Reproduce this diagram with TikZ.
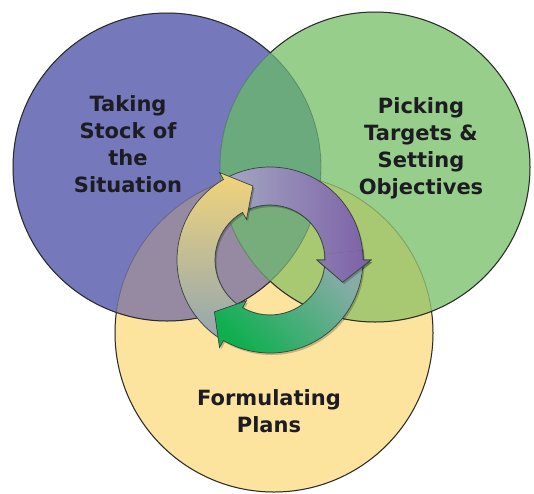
\documentclass[tikz,border=0pt]{standalone}
\usepackage{fontspec}
\setsansfont{DejaVu Sans}
\definecolor{cB}{HTML}{7579BB}
\definecolor{cG}{HTML}{97CE8B}
\definecolor{cY}{HTML}{FCE49F}
\definecolor{cBG}{HTML}{6AAA7C}
\definecolor{cBY}{HTML}{958AA1}
\definecolor{cGY}{HTML}{A8C872}
\definecolor{cBGY}{HTML}{76AD7A}
\definecolor{edge}{HTML}{2A2A2A}
\definecolor{txt}{HTML}{1C1C22}
\definecolor{pLight}{HTML}{A2A6C2}
\definecolor{pDark}{HTML}{7C60A6}
\definecolor{gTeal}{HTML}{86ACA6}
\definecolor{gGreen}{HTML}{0FAF50}
\definecolor{yTop}{HTML}{F2D47A}
\definecolor{yBot}{HTML}{93A6B0}
\definecolor{aEdge}{HTML}{3A4040}
\newcommand\arrowpath[3]{(#1:93) arc[start angle=#1, end angle=#2, radius=93] -- (#2:101) -- (#3:76) -- (#2:47) -- (#2:55) arc[start angle=#2, end angle=#1, radius=55] -- cycle}
\tikzset{
  lbl/.style={font=\sffamily\bfseries\fontsize{21}{27}\selectfont, text=txt, align=center, inner sep=0pt},
  darkedge/.style={draw=edge, line width=1pt},
  faintedge/.style={draw=black, draw opacity=0.22, line width=0.8pt},
  arrowedge/.style={draw=aEdge, line width=0.7pt},
  purplearrow/.style={top color=pLight, bottom color=pDark, shading angle=90, arrowedge},
  greenarrow/.style={top color=gTeal, bottom color=gGreen, shading angle=-45, arrowedge},
  yellowarrow/.style={top color=yTop, bottom color=yBot, shading angle=0, arrowedge},
  arrowshadow/.style={fill=black, fill opacity=0.22}
}
\begin{document}
\begin{tikzpicture}[x=1pt,y=-1pt]
\useasboundingbox (0,0) rectangle (534,493);
\fill[white] (0,0) rectangle (534,493);
\coordinate (B) at (167,167);
\coordinate (G) at (375,167);
\coordinate (Y) at (274,333);
% region fills
\fill[cY] (Y) circle[radius=159];
\fill[cB] (B) circle[radius=154];
\fill[cG] (G) circle[radius=155];
\begin{scope}
  \clip (B) circle[radius=154];
  \fill[cBY] (Y) circle[radius=159];
  \fill[cBG] (G) circle[radius=155];
  \clip (G) circle[radius=155];
  \fill[cBGY] (Y) circle[radius=159];
\end{scope}
\begin{scope}
  \clip (G) circle[radius=155];
  \fill[cGY] (Y) circle[radius=159];
  \clip (B) circle[radius=154];
  \fill[cBGY] (Y) circle[radius=159];
\end{scope}
% faint inner edges
\draw[faintedge] (B) circle[radius=154];
\draw[faintedge] (G) circle[radius=155];
\draw[faintedge] (Y) circle[radius=159];
% dark edges
\begin{scope}[even odd rule]
  \clip (-20,-20) rectangle (560,520) (G) circle[radius=155];
  \draw[darkedge] (B) circle[radius=154];
\end{scope}
\begin{scope}[even odd rule]
  \clip (-20,-20) rectangle (560,520) (B) circle[radius=154];
  \draw[darkedge] (G) circle[radius=155];
\end{scope}
\begin{scope}[even odd rule]
  \clip (-20,-20) rectangle (560,520) (B) circle[radius=154];
  \clip (-20,-20) rectangle (560,520) (G) circle[radius=155];
  \draw[darkedge] (Y) circle[radius=159];
\end{scope}
% labels
\node[lbl] (stock) at (128,144) {Taking\\Stock of\\the\\Situation};
\node[lbl] (targets) at (421,148) {Picking\\Targets \&\\Setting\\Objectives};
\node[lbl] (plans) at (269,411) {Formulating\\Plans};
% circular arrows
\begin{scope}[shift={(270,260)}, yscale=-1]
  \draw[black, opacity=0.25, line width=3pt] (0,0) circle[radius=56];
  \fill[arrowshadow, shift={(1.5,-2)}] \arrowpath{117}{0}{-17};
  \shadedraw[purplearrow] \arrowpath{117}{0}{-17};
  \fill[arrowshadow, shift={(1.5,-2)}] \arrowpath{237}{120}{103};
  \shadedraw[yellowarrow] \arrowpath{237}{120}{103};
  \fill[arrowshadow, shift={(1.5,-2)}] \arrowpath{-3}{-120}{-137};
  \shadedraw[greenarrow] \arrowpath{-3}{-120}{-137};
  \begin{scope}
    \clip (0,0) -- (6:130) arc[start angle=6, end angle=-35, radius=130] -- cycle;
    \fill[arrowshadow, shift={(1.5,-2)}] \arrowpath{117}{0}{-17};
    \shadedraw[purplearrow] \arrowpath{117}{0}{-17};
  \end{scope}
\end{scope}
\end{tikzpicture}
\end{document}
